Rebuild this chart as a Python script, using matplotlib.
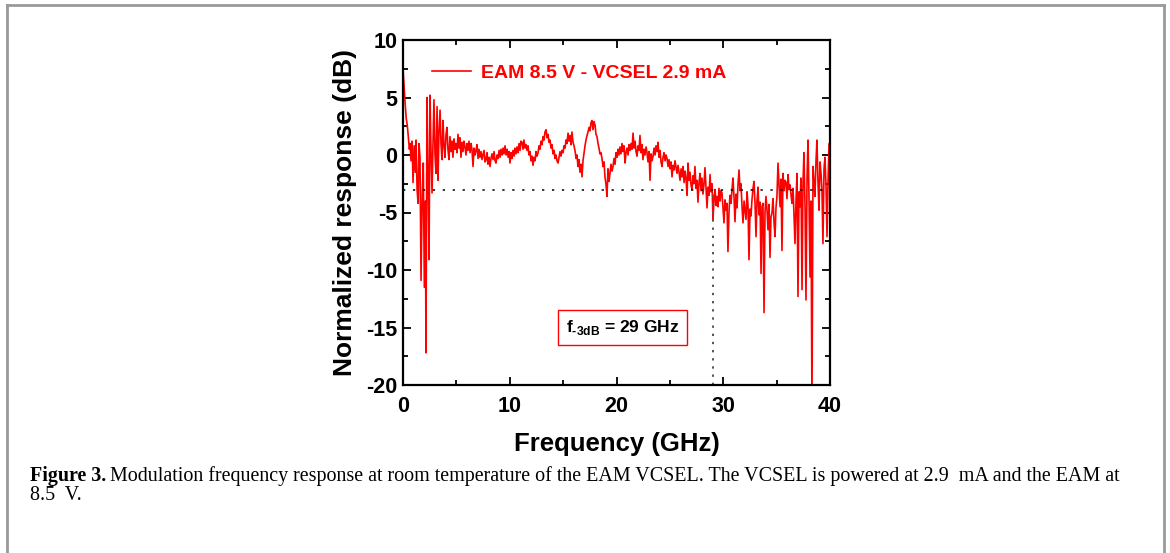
import matplotlib
matplotlib.use("Agg")
import matplotlib.pyplot as plt
from matplotlib.lines import Line2D

plt.rcParams["font.family"] = ["Liberation Sans", "DejaVu Sans"]
plt.rcParams["font.weight"] = "bold"
plt.rcParams["axes.unicode_minus"] = False
plt.rcParams["mathtext.fontset"] = "custom"
plt.rcParams["mathtext.rm"] = "Liberation Sans:bold"
plt.rcParams["mathtext.bf"] = "Liberation Sans:bold"

# modulation response (GHz, dB)
freq = [
    0.00, 0.10, 0.20, 0.30, 0.40, 0.50, 0.60, 0.66, 0.75, 0.85, 0.94, 1.05, 1.15, 1.22, 1.32, 1.41,
    1.50, 1.59, 1.69, 1.80, 1.90, 2.00, 2.10, 2.15, 2.25, 2.35, 2.44, 2.53, 2.62, 2.72, 2.81, 2.90,
    3.00, 3.09, 3.19, 3.28, 3.37, 3.47, 3.56, 3.65, 3.75, 3.84, 3.93, 4.03, 4.12, 4.21, 4.31,
    4.40, 4.50, 4.59, 4.68, 4.78, 4.87, 4.97, 5.06, 5.15, 5.25, 5.34, 5.43, 5.53, 5.62, 5.71, 5.81,
    5.90, 6.00, 6.09, 6.18, 6.28, 6.37, 6.46, 6.56, 6.65, 6.75, 6.84, 6.93, 7.03, 7.12, 7.21, 7.31,
    7.40, 7.49, 7.59, 7.68, 7.78, 7.87, 7.96, 8.06, 8.15, 8.24, 8.34, 8.43, 8.53, 8.62, 8.71, 8.81,
    8.90, 9.00, 9.09, 9.18, 9.28, 9.37, 9.46, 9.56, 9.65,
    9.75, 9.85, 9.95, 10.02, 10.12, 10.21, 10.30, 10.40, 10.49, 10.58, 10.68, 10.77, 10.87, 10.96,
    11.05, 11.15, 11.24, 11.33, 11.43, 11.52, 11.62, 11.71, 11.80, 11.90, 11.99, 12.08, 12.18, 12.27,
    12.37, 12.46, 12.55, 12.65, 12.74, 12.83, 12.93, 13.02, 13.12, 13.21, 13.30, 13.40, 13.49, 13.58,
    13.68, 13.77, 13.87, 13.96, 14.05, 14.15, 14.24, 14.33, 14.43, 14.52, 14.62, 14.71, 14.80, 14.90,
    14.99, 15.08, 15.18, 15.27, 15.36, 15.46, 15.55, 15.65, 15.74, 15.83, 15.93, 16.02, 16.11, 16.21,
    16.30, 16.39, 16.49, 16.58, 16.68, 16.77, 16.86, 16.96, 17.05, 17.14, 17.24, 17.33, 17.43, 17.52,
    17.61, 17.70, 17.80, 17.89, 17.99, 18.08, 18.17, 18.27, 18.36, 18.45, 18.55, 18.64, 18.74, 18.83,
    18.92, 19.02, 19.11, 19.20, 19.30, 19.39, 19.48,
    19.58, 19.67, 19.77, 19.86, 19.95, 20.05, 20.14, 20.23, 20.33, 20.42, 20.52, 20.61, 20.70, 20.80,
    20.89, 20.98, 21.08, 21.17, 21.27, 21.36, 21.45, 21.55, 21.64, 21.74, 21.83, 21.92, 22.02, 22.11,
    22.20, 22.30, 22.39, 22.48, 22.58, 22.67, 22.77, 22.86, 22.95, 23.05, 23.14, 23.23, 23.33, 23.42,
    23.52, 23.61, 23.70, 23.80, 23.89, 23.99, 24.08, 24.17, 24.26, 24.36, 24.45, 24.55, 24.64, 24.73,
    24.83, 24.92, 25.01, 25.11, 25.20, 25.30, 25.39, 25.48, 25.58, 25.67, 25.76, 25.86, 25.95, 26.05,
    26.14, 26.23, 26.33, 26.42, 26.51, 26.61, 26.70, 26.79, 26.89, 26.98, 27.07, 27.17, 27.26, 27.35,
    27.45, 27.54, 27.63, 27.73, 27.82, 27.92, 28.01, 28.10, 28.20, 28.29, 28.39, 28.48,
    28.57, 28.67, 28.76, 28.85, 28.95, 29.04, 29.14, 29.23, 29.32, 29.42, 29.51, 29.60, 29.70, 29.79,
    29.88, 29.98, 30.07, 30.16, 30.26, 30.35, 30.44, 30.54, 30.63, 30.73, 30.82, 30.91, 31.01, 31.10,
    31.20, 31.29, 31.38, 31.48, 31.57, 31.66, 31.76, 31.85, 31.95, 32.04, 32.13, 32.23, 32.32, 32.41,
    32.51, 32.60, 32.69, 32.79, 32.88, 32.98, 33.07, 33.16, 33.26, 33.35, 33.45, 33.54, 33.63, 33.72,
    33.82, 33.91, 34.00, 34.10, 34.19, 34.29, 34.38, 34.47, 34.57, 34.66, 34.76, 34.85, 34.94, 35.03,
    35.13, 35.22, 35.32, 35.41, 35.50, 35.60, 35.69, 35.79, 35.88, 35.97, 36.07, 36.16, 36.26, 36.35,
    36.44, 36.54, 36.63, 36.72, 36.82, 36.91, 37.00, 37.10, 37.19, 37.28, 37.38, 37.47, 37.56, 37.66,
    37.75, 37.85, 37.94, 38.03, 38.13, 38.22, 38.31, 38.41, 38.50, 38.59, 38.69, 38.78, 38.87, 38.97,
    39.06, 39.16, 39.25, 39.34, 39.44, 39.53, 39.63, 39.72, 39.81, 39.91, 40.00,
]
response = [
    7.5, 6.0, 4.5, 3.2, 2.6, 1.6, 0.5, 1.0, -0.5, 1.2, -2.4, 0.8, -1.5, 1.3, -3.0, -4.2,
    1.0, -0.2, -10.9, -3.5, -0.7, -11.5, -4.0, -17.2, 5.0, -2.0, -9.1, 5.2, 0.5, -3.3, 1.0, 4.8,
    0.0, -1.6, 4.2, -2.2, 2.0, 3.9, 1.0, -0.4, 3.0, 0.8, -0.2, 1.8, 2.4, 0.5, -0.4,
    1.6, 0.3, 1.2, -0.2, 1.4, 0.5, 1.0, 0.2, 1.8, 0.6, 1.5, -0.2, 1.1, 0.3, 1.2, 0.7,
    0.0, 1.0, 0.4, 1.2, 0.2, 1.0, 0.5, -1.0, 0.6, 0.0, 0.4, 0.9, -0.3, 0.5, -0.2, 0.3,
    -0.4, 0.0, 0.4, -0.6, -0.4, 0.2, -0.8, -0.2, -1.0, -0.3, 0.1, -0.4, 0.3, -0.5, -0.7, 0.0,
    -0.3, 0.4, -0.2, 0.5, 0.0, 0.6, 0.1, 0.8, 0.0,
    0.5, -0.2, 0.3, -0.7, 0.2, -0.3, 0.4, -0.1, 0.6, 0.1, 0.7, 0.2, 1.0, 0.4,
    1.2, 1.1, 0.5, 1.3, 0.6, 0.9, 0.4, 0.8, 0.0, 0.3, -0.5, -0.1, -0.9, -0.2,
    -0.5, 0.3, -0.1, 0.2, 0.8, 0.5, 1.2, 0.9, 1.6, 1.3, 2.0, 2.2, 1.5, 1.8,
    1.1, 1.3, 0.6, 0.9, 0.1, 0.4, -0.3, 0.0, -0.5, -0.7, -0.2, 0.3, -0.1, 0.4,
    0.2, 0.8, 0.6, 1.3, 1.0, 1.9, 1.2, 1.7, 0.9, 2.0, 1.1, 0.8, 0.4, -0.3,
    0.0, -1.0, -0.4, -1.5, -0.8, -1.9, -0.5, 0.2, 0.8, 1.3, 1.7, 2.0, 2.4, 2.1,
    2.8, 3.0, 2.2, 2.9, 2.6, 1.8, 1.6, 1.0, 0.6, 0.1, 0.2, -0.3, -1.0, -0.6,
    -1.9, -2.6, -3.6, -1.2, -2.3, -1.6, -0.8,
    -1.4, -1.0, -0.3, -0.8, 0.2, -0.2, 0.5, 0.0, 0.7, 0.1, 1.0, 0.3, 0.8, -0.7,
    0.2, 0.6, 0.0, 0.9, 0.4, 1.0, 0.5, 1.9, 0.6, 1.2, 0.3, -0.1, 0.8, 0.4,
    1.7, 0.2, 0.9, -0.4, 0.5, 0.0, 0.7, 0.2, -0.6, 0.3, -2.2, 0.1, -0.5, -0.1,
    0.6, 0.0, 0.8, 0.3, 1.1, -0.2, 0.4, -0.6, -1.0, -0.2, 0.2, -0.5, 0.0, -0.3,
    -1.0, -0.4, -1.2, -0.6, -1.9, -0.9, -1.3, -0.5, -1.1, -1.6, -0.9, -1.5, -2.2, -1.2,
    -1.9, -1.0, -2.4, -1.4, -2.0, -3.5, -0.7, -2.2, -1.5, -2.6, -3.0, -1.8, -2.5, -1.0,
    -2.9, -2.2, -4.1, -2.4, -1.6, -3.1, -2.0, -3.4, -2.5, -1.1, -3.0, -4.6,
    -2.8, -3.5, -1.7, -3.2, -2.5, -5.6, -3.8, -3.0, -4.4, -3.6, -4.5, -2.9, -4.0, -3.1,
    -3.3, -4.6, -5.9, -3.9, -4.8, -4.2, -8.4, -4.9, -3.5, -4.2, -3.0, -2.0, -3.7, -5.8,
    -3.4, -4.6, -2.6, -1.3, -3.1, -2.5, -4.5, -5.9, -4.0, -4.8, -5.6, -3.2, -4.4, -9.1,
    -4.7, -5.3, -3.9, -2.9, -2.3, -4.3, -7.1, -4.0, -2.8, -5.2, -4.1, -10.3, -4.5, -4.2,
    -13.7, -5.0, -3.6, -4.8, -6.5, -4.3, -8.9, -5.4, -5.0, -3.8, -5.9, -7.1, -4.6, -3.6,
    -0.7, -2.5, -4.5, -2.1, -8.3, -1.6, -3.1, -2.2, -2.4, -3.8, -1.7, -3.0, -2.6, -3.5,
    -4.2, -2.9, -5.4, -7.7, -3.9, -1.6, -12.3, -3.2, -4.5, -2.0, -11.7, -2.5, 0.2, -4.4,
    -12.6, -2.0, 1.3, -3.5, -10.6, -4.0, -22.0, -1.0, -2.4, -3.6, -0.5, 1.3, -2.2, -4.8,
    -0.6, -1.6, -3.1, -7.7, -1.2, -0.2, -2.8, -7.1, -2.5, 1.0, -3.9,
]

f3db = 29
level = -3

xticks = [0, 10, 20, 30, 40]
yticks = [-20, -15, -10, -5, 0, 5, 10]

fig = plt.figure(figsize=(11.7, 5.53), dpi=100)
ax = fig.add_axes([403 / 1170, 1 - 385 / 553, 427 / 1170, 345 / 553])

ax.plot(freq, response, color="#ff0000", lw=1.2, label="EAM 8.5 V - VCSEL 2.9 mA")
ax.plot([0, 40], [level, level], color="black", lw=1.1, ls=(0, (1.5, 5)))
ax.plot([f3db, f3db], [-20, level], color="#555555", lw=1.4, ls=(0, (1.2, 3)))

ax.set_xlim(0, 40)
ax.set_ylim(-20, 10)
ax.set_xticks(xticks)
ax.set_yticks(yticks)
ax.set_xticks(range(5, 40, 10), minor=True)
ax.set_yticks([-17.5, -12.5, -7.5, -2.5, 2.5, 7.5], minor=True)
ax.tick_params(which="both", direction="in", top=True, right=True, width=1.3,
               labelsize=15.5)
ax.tick_params(axis="x", which="major", pad=8)
ax.tick_params(axis="y", which="major", pad=4)
ax.tick_params(which="major", length=6)
ax.tick_params(which="minor", length=3.5)
for s in ax.spines.values():
    s.set_linewidth(1.6)

ax.set_xlabel("Frequency (GHz)", fontsize=18.5, fontweight="bold")
ax.set_ylabel("Normalized response (dB)", fontsize=19, fontweight="bold")
ax.xaxis.set_label_coords(0.5, -0.136)
ax.yaxis.set_label_coords(-0.108, 0.5)

leg = ax.legend(loc="center left", bbox_to_anchor=(0.068, 0.904), frameon=False,
                borderpad=0, borderaxespad=0, handlelength=2.0, handletextpad=0.5,
                prop={"size": 14, "weight": "bold"}, labelcolor="#ff0000")

ax.text(0.514, 0.167, "f$_{\\rm \u20103dB}$ = 29 GHz", transform=ax.transAxes,
        ha="center", va="center", fontsize=12.5, fontweight="bold",
        bbox=dict(boxstyle="square,pad=0.45", fc="white", ec="#ff0000", lw=1.0))

# page frame around the figure
frame = dict(color="#999999", lw=2.0, transform=fig.transFigure)
fig.add_artist(Line2D([7 / 1170, 7 / 1170], [0, 1 - 5 / 553], **frame))
fig.add_artist(Line2D([7 / 1170, 1164 / 1170], [1 - 5 / 553, 1 - 5 / 553], **frame))
fig.add_artist(Line2D([1164 / 1170, 1164 / 1170], [0, 1 - 5 / 553], **frame))

cap_size = 14.4
cap_y = 1 - 476 / 553
t1 = fig.text(30 / 1170, cap_y, "Figure 3.", family="Liberation Serif", weight="bold",
              fontsize=cap_size, va="center")
fig.canvas.draw()
bb = t1.get_window_extent()
fig.text(bb.x1 / 1170 + 4 / 1170, cap_y,
         "Modulation frequency response at room temperature of the EAM VCSEL. "
         "The VCSEL is powered at 2.9  mA and the EAM at",
         family="Liberation Serif", weight="normal", fontsize=cap_size, va="center")
fig.text(30 / 1170, 1 - 496 / 553, "8.5  V.", family="Liberation Serif",
         weight="normal", fontsize=cap_size, va="center")

fig.savefig("out.png", dpi=100)
